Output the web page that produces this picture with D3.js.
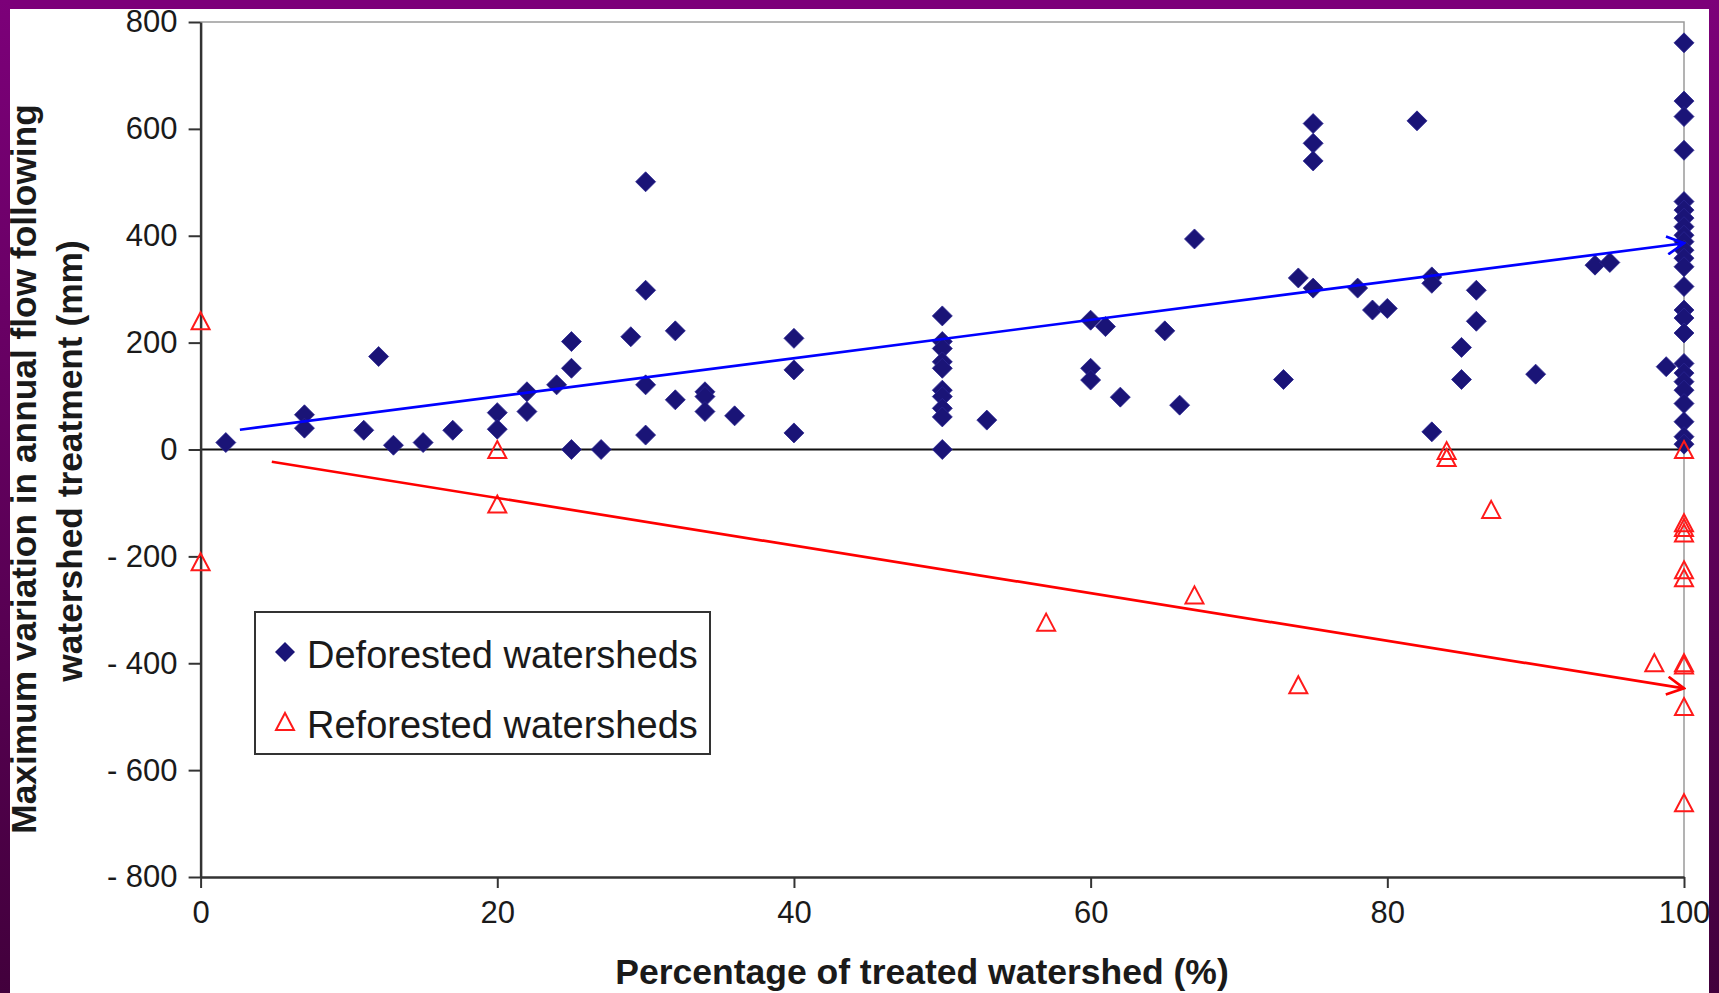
<!DOCTYPE html>
<html>
<head>
<meta charset="utf-8">
<script src="https://cdn.jsdelivr.net/npm/d3@7"></script>
<style>
  body { margin: 0; background: #fff; overflow: hidden; }
  svg { display: block; font-family: "Liberation Sans", Arial, sans-serif; }
</style>
</head>
<body>
<div id="chart"></div>
<script>
// values
var defX = [1.7, 7, 7, 11, 12, 13, 15, 17, 20, 20, 22, 22, 24, 25, 25, 25, 27, 29,
  30, 30, 30, 30, 32, 32, 34, 34, 34, 36, 40, 40, 40,
  50, 50, 50, 50, 50, 50, 50, 50, 50, 50, 53, 60, 60, 60, 61, 62, 65, 66, 67,
  73, 74, 75, 75, 75, 75, 78, 79, 80, 82, 83, 83, 83, 85, 85, 86, 86, 90, 94, 95, 98.8,
  100, 100, 100, 100, 100, 100, 100, 100, 100, 100, 100, 100, 100,
  100, 100, 100, 100, 100, 100, 100, 100, 100, 100, 100, 100];
var defY = [13, 65, 40, 36, 174, 8, 13, 36, 69, 38, 108, 71, 121, 202, 152, 0, 0, 211,
  501, 298, 121, 27, 222, 93, 108, 99, 71, 63, 208, 149, 31,
  250, 202, 189, 164, 152, 111, 99, 77, 61, 0, 55, 242, 152, 130, 230, 98, 222, 83, 394,
  131, 321, 610, 573, 540, 302, 302, 261, 264, 615, 323, 311, 33, 191, 131, 298, 240, 141, 345, 350, 155,
  761, 652, 623, 560, 464, 448, 433, 417, 401, 389, 373, 358, 342,
  305, 261, 246, 218, 161, 143, 127, 111, 86, 52, 24, 10];

var refX = [0, 0, 20, 20, 57, 67, 74, 84, 84, 87, 98,
  100, 100, 100, 100, 100, 100, 100, 100, 100, 100];
var refY = [240, -211, -1, -103, -324, -273, -441, -3, -16, -113, -400,
  -1, -138, -147, -157, -226, -241, -400, -404, -482, -662];

// trend arrows (start, end)
var defTrendX = [2.65, 100];
var defTrendY = [37, 386];
var refTrendX = [4.8, 100];
var refTrendY = [-23, -447];

var xTicks = [0, 20, 40, 60, 80, 100];
var yTicks = [800, 600, 400, 200, 0, -200, -400, -600, -800];
var seriesNames = ["Deforested watersheds", "Reforested watersheds"];
var xTitle = "Percentage of treated watershed (%)";
var yTitle = ["Maximum variation in annual flow following", "watershed treatment (mm)"];

var width = 1719, height = 993;
var navy = "#1a1477", red = "#ff1a1a";

var svg = d3.select("#chart").append("svg")
  .attr("width", width)
  .attr("height", height);

var defs = svg.append("defs");
var grad = defs.append("linearGradient")
  .attr("id", "purple")
  .attr("x1", 0).attr("y1", 0).attr("x2", 0).attr("y2", 1);
grad.append("stop").attr("offset", "0%").attr("stop-color", "#7c0079");
grad.append("stop").attr("offset", "100%").attr("stop-color", "#42003c");

// open arrow heads
[["arrowBlue", "#0000ff"], ["arrowRed", "#ff0000"]].forEach(function(m) {
  defs.append("marker")
    .attr("id", m[0])
    .attr("viewBox", "0 -10 20 20")
    .attr("refX", 18).attr("refY", 0)
    .attr("markerWidth", 20).attr("markerHeight", 20)
    .attr("markerUnits", "userSpaceOnUse")
    .attr("orient", "auto")
    .append("path")
      .attr("d", "M1,-9L18,0L1,9")
      .attr("fill", "none")
      .attr("stroke", m[1])
      .attr("stroke-width", 2.7);
});

var x = d3.scaleLinear().domain([0, 100]).range([200.6, 1684]);
var y = d3.scaleLinear().domain([-800, 800]).range([877, 22]);

// plot frame (top + right, grey)
svg.append("path")
  .attr("d", "M" + x(0) + "," + y(800) + "H" + x(100) + "V" + y(-800))
  .attr("fill", "none")
  .attr("stroke", "#9a9a9a")
  .attr("stroke-width", 1.5);

// zero line
svg.append("line")
  .attr("x1", x(0)).attr("x2", x(100))
  .attr("y1", y(0)).attr("y2", y(0))
  .attr("stroke", "#111")
  .attr("stroke-width", 2);

// axes
var yAxis = svg.append("g")
  .attr("transform", "translate(" + x(0) + ",0)")
  .call(d3.axisLeft(y)
    .tickValues(yTicks)
    .tickSize(12)
    .tickSizeOuter(0)
    .tickPadding(11)
    .tickFormat(function(d) { return d < 0 ? "- " + (-d) : d; }));

var xAxis = svg.append("g")
  .attr("transform", "translate(0," + y(-800) + ")")
  .call(d3.axisBottom(x)
    .tickValues(xTicks)
    .tickSize(11)
    .tickSizeOuter(0)
    .tickPadding(13));

[yAxis, xAxis].forEach(function(g) {
  g.select(".domain").attr("stroke", "#333").attr("stroke-width", 2.5);
  g.selectAll(".tick line").attr("stroke", "#333").attr("stroke-width", 2);
  g.selectAll(".tick text")
    .attr("fill", "#1a1a1a")
    .style("font-size", "31px")
    .style("font-family", "'Liberation Sans', Arial, sans-serif");
});

// deforested diamonds
var diamond = "M0,-10L10,0L0,10L-10,0Z";
svg.append("g").selectAll("path")
  .data(defX.map(function(d, i) { return [d, defY[i]]; }))
  .enter().append("path")
    .attr("d", diamond)
    .attr("transform", function(d) { return "translate(" + x(d[0]) + "," + y(d[1]) + ")"; })
    .attr("fill", navy)
    .attr("stroke", "#2a2490")
    .attr("stroke-width", 0.8);

// reforested triangles
var triangle = "M0,-9L9,8L-9,8Z";
svg.append("g").selectAll("path")
  .data(refX.map(function(d, i) { return [d, refY[i]]; }))
  .enter().append("path")
    .attr("d", triangle)
    .attr("transform", function(d) { return "translate(" + x(d[0]) + "," + y(d[1]) + ")"; })
    .attr("fill", "none")
    .attr("stroke", red)
    .attr("stroke-width", 2);

// trend arrows
svg.append("line")
  .attr("x1", x(defTrendX[0])).attr("y1", y(defTrendY[0]))
  .attr("x2", x(defTrendX[1])).attr("y2", y(defTrendY[1]))
  .attr("stroke", "#0000ff")
  .attr("stroke-width", 2.7)
  .attr("marker-end", "url(#arrowBlue)");

svg.append("line")
  .attr("x1", x(refTrendX[0])).attr("y1", y(refTrendY[0]))
  .attr("x2", x(refTrendX[1])).attr("y2", y(refTrendY[1]))
  .attr("stroke", "#ff0000")
  .attr("stroke-width", 2.7)
  .attr("marker-end", "url(#arrowRed)");

// legend
var legend = svg.append("g").attr("transform", "translate(255,612)");
legend.append("rect")
  .attr("width", 455).attr("height", 142)
  .attr("fill", "#fff")
  .attr("stroke", "#333")
  .attr("stroke-width", 2);

legend.append("path")
  .attr("d", diamond)
  .attr("transform", "translate(30,40)")
  .attr("fill", navy);
legend.append("path")
  .attr("d", triangle)
  .attr("transform", "translate(30,110)")
  .attr("fill", "none")
  .attr("stroke", red)
  .attr("stroke-width", 2);

legend.selectAll("text")
  .data(seriesNames)
  .enter().append("text")
    .attr("x", 52)
    .attr("y", function(d, i) { return 56 + i * 70; })
    .attr("fill", "#1a1a1a")
    .style("font-size", "38px")
    .text(function(d) { return d; });

// axis titles
svg.append("text")
  .attr("x", 922).attr("y", 984)
  .attr("text-anchor", "middle")
  .attr("fill", "#1a1a1a")
  .style("font-size", "35.5px")
  .style("font-weight", "bold")
  .text(xTitle);

svg.selectAll(".ytitle")
  .data(yTitle)
  .enter().append("text")
    .attr("class", "ytitle")
    .attr("transform", function(d, i) {
      return "translate(" + (36 + i * 46) + "," + (469 - i * 8) + ") rotate(-90)";
    })
    .attr("text-anchor", "middle")
    .attr("fill", "#1a1a1a")
    .style("font-size", "35.3px")
    .style("font-weight", "bold")
    .text(function(d) { return d; });

// purple slide frame, drawn last so it clips the edge like the original
svg.append("rect").attr("x", 0).attr("y", 0).attr("width", width).attr("height", 9).attr("fill", "#7c0079");
svg.append("rect").attr("x", 0).attr("y", 0).attr("width", 10).attr("height", height).attr("fill", "url(#purple)");
svg.append("rect").attr("x", 1709).attr("y", 0).attr("width", 10).attr("height", height).attr("fill", "url(#purple)");
</script>
</body>
</html>
